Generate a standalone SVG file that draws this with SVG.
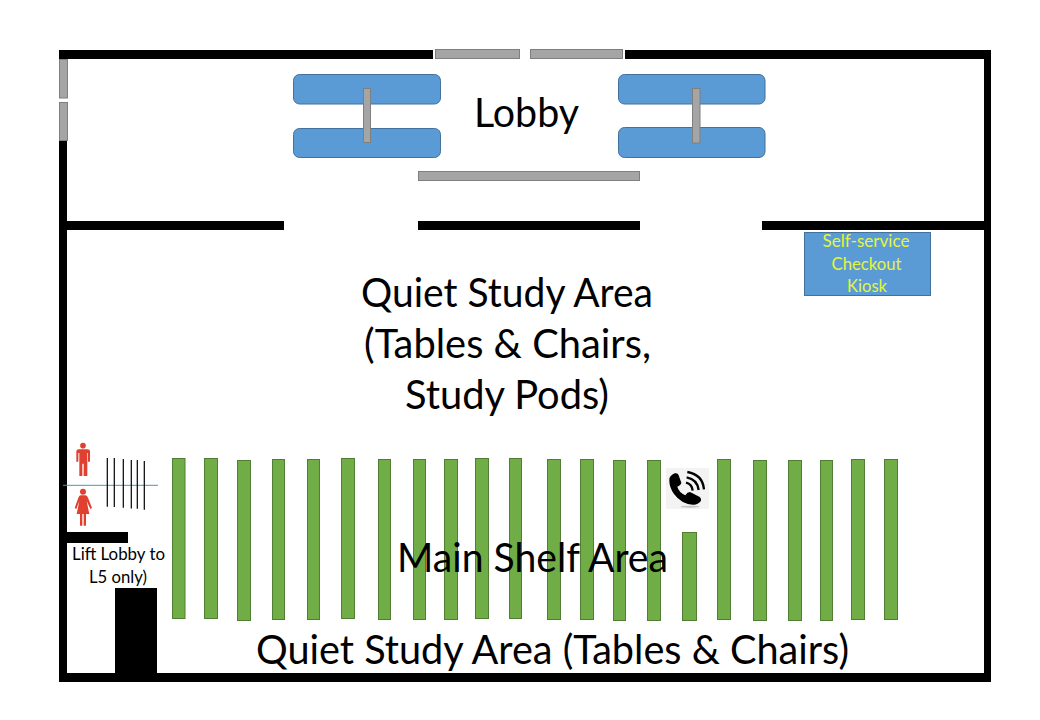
<svg xmlns="http://www.w3.org/2000/svg" width="1040" height="720" viewBox="0 0 1040 720">
<style>
.wall{fill:#000}
.door{fill:#a5a5a5;stroke:#7f7f7f;stroke-width:1}
.sofa{fill:#5b9bd5;stroke:#41719c;stroke-width:1}
.shelf{fill:#70ad47;stroke:#507e32;stroke-width:1}
.fig{fill:#e0402f}
.barrier{stroke:#000;stroke-width:1.2;fill:none}
text{font-family:"Lato","Carlito","Liberation Sans",sans-serif;fill:#000;text-anchor:middle}
.big{font-size:40px}
.small{font-size:16.5px}
.kiosk{font-size:16.5px;fill:#e4f53c}
</style>
<rect width="1040" height="720" fill="#fff"/>
<g id="walls">
<rect class="wall" x="59" y="50" width="374" height="9"/>
<rect class="wall" x="625" y="50" width="366" height="9"/>
<rect class="wall" x="59" y="140" width="8" height="542"/>
<rect class="wall" x="984" y="50" width="7" height="632"/>
<rect class="wall" x="59" y="673" width="932" height="9"/>
<rect class="wall" x="66" y="221" width="218" height="9"/>
<rect class="wall" x="418" y="221" width="222" height="9"/>
<rect class="wall" x="762" y="221" width="222" height="9"/>
<rect class="wall" x="66" y="532" width="62" height="11"/>
<rect class="wall" x="115" y="588" width="42" height="86"/>
</g>
<g id="doors">
<rect class="door" x="435.500" y="49.500" width="84" height="9"/>
<rect class="door" x="530.500" y="49.500" width="92" height="9"/>
<rect class="door" x="59.500" y="59.500" width="8" height="38.500"/>
<rect class="door" x="59.500" y="102.500" width="8" height="38"/>
</g>
<g id="lobby-seating">
<rect class="sofa" x="293.500" y="74.500" width="147" height="29.500" rx="6"/>
<rect class="sofa" x="293.500" y="128.500" width="147" height="29" rx="6"/>
<rect class="sofa" x="618.500" y="74.500" width="146.500" height="29.500" rx="6"/>
<rect class="sofa" x="618.500" y="127.500" width="146.500" height="30" rx="6"/>
<rect class="door" x="363.500" y="88.500" width="7" height="54"/>
<rect class="door" x="692.500" y="88.500" width="7.500" height="54.500"/>
<rect class="door" x="418.500" y="171.500" width="221" height="9"/>
</g>
<g id="kiosk">
<rect class="sofa" x="804.500" y="232.500" width="126" height="63"/>
<text class="kiosk" x="866" y="247" textLength="87" lengthAdjust="spacingAndGlyphs">Self-service</text>
<text class="kiosk" x="866.500" y="270" textLength="70" lengthAdjust="spacingAndGlyphs">Checkout</text>
<text class="kiosk" x="867" y="291.500" textLength="40" lengthAdjust="spacingAndGlyphs">Kiosk</text>
</g>
<g id="shelves">
<rect class="shelf" x="172.500" y="458.500" width="12.500" height="160"/>
<rect class="shelf" x="204.500" y="458.500" width="13" height="160"/>
<rect class="shelf" x="237.500" y="460.500" width="13" height="160"/>
<rect class="shelf" x="272.500" y="459.500" width="12" height="160"/>
<rect class="shelf" x="307.500" y="459.500" width="12" height="160"/>
<rect class="shelf" x="341.500" y="458.500" width="13" height="160"/>
<rect class="shelf" x="378.500" y="459.500" width="12" height="160"/>
<rect class="shelf" x="413.500" y="459.500" width="12" height="160"/>
<rect class="shelf" x="444.500" y="459.500" width="13" height="160"/>
<rect class="shelf" x="475.500" y="458.500" width="13" height="160"/>
<rect class="shelf" x="509.500" y="458.500" width="12" height="160"/>
<rect class="shelf" x="547.500" y="459.500" width="13" height="160"/>
<rect class="shelf" x="580.500" y="459.500" width="13" height="160"/>
<rect class="shelf" x="613.500" y="460.500" width="12" height="160"/>
<rect class="shelf" x="647.500" y="460.500" width="13" height="160"/>
<rect class="shelf" x="682.500" y="532.500" width="14" height="88"/>
<rect class="shelf" x="717.500" y="459.500" width="13" height="160"/>
<rect class="shelf" x="753.500" y="460.500" width="13" height="160"/>
<rect class="shelf" x="788.500" y="460.500" width="13" height="160"/>
<rect class="shelf" x="820.500" y="460.500" width="12" height="160"/>
<rect class="shelf" x="851.500" y="459.500" width="13" height="160"/>
<rect class="shelf" x="884.500" y="459.500" width="13" height="160"/>
</g>
<g id="phone" transform="translate(640 450) scale(.3333)">
<rect x="78" y="54" width="129" height="123" fill="#f3f3f3"/>
<ellipse cx="150" cy="170" rx="28" ry="3" fill="#c4c4c4"/>
<path d="M88 92Q86 78 104 70Q114 68 116 76L124 98Q124 104 112 110Q116 126 136 136Q142 126 150 126L178 140Q186 146 182 154Q172 166 158 164Q124 162 102 132Q88 112 88 92Z" fill="#000"/>
<path d="M142 66Q188 74 192 118M140 82Q172 88 176 120M138 98Q156 102 158 122" fill="none" stroke="#000" stroke-width="7"/>
</g>
<g id="restroom-male" transform="translate(60 435) scale(.3333)">
<circle class="fig" cx="69" cy="32" r="8.500"/>
<path class="fig" d="M56 43H82Q90 43 90 50V80H84V54H82V123H71V86H67V123H58V54H55V80H49V50Q49 43 56 43Z"/>
</g>
<g id="restroom-female" transform="translate(60 435) scale(.3333)">
<circle class="fig" cx="69" cy="170" r="9"/>
<path class="fig" d="M62 181H76Q81 181 84 188L96 219L91 222L80 198L88 237H78V272H71V237H67V272H60V237H50L58 198L49 222L44 219L55 188Q58 181 62 181Z"/>
</g>
<g id="connectors">
<line x1="63" y1="485.300" x2="158" y2="485.300" stroke="#4f94b0" stroke-width="1"/>
<line class="barrier" x1="107.300" y1="458" x2="107.300" y2="506.700"/>
<line class="barrier" x1="114.300" y1="458" x2="114.300" y2="507"/>
<line class="barrier" x1="123.300" y1="459" x2="123.300" y2="507.700"/>
<line class="barrier" x1="131.300" y1="460" x2="131.300" y2="508.500"/>
<line class="barrier" x1="137.300" y1="460" x2="137.300" y2="508.700"/>
<line class="barrier" x1="144.300" y1="461" x2="144.300" y2="509.700"/>
</g>
<g id="labels">
<text class="big" x="526.500" y="127" textLength="105" lengthAdjust="spacingAndGlyphs">Lobby</text>
<text class="big" x="507" y="307" textLength="292" lengthAdjust="spacingAndGlyphs">Quiet Study Area</text>
<text class="big" x="507.500" y="358" textLength="287" lengthAdjust="spacingAndGlyphs">(Tables &amp; Chairs,</text>
<text class="big" x="507" y="409" textLength="204" lengthAdjust="spacingAndGlyphs">Study Pods)</text>
<text class="big" x="532.500" y="572" textLength="271" lengthAdjust="spacingAndGlyphs">Main Shelf Area</text>
<text class="big" x="552.500" y="664" textLength="593" lengthAdjust="spacingAndGlyphs">Quiet Study Area (Tables &amp; Chairs)</text>
<text class="small" x="118.500" y="560" textLength="93" lengthAdjust="spacingAndGlyphs">Lift Lobby to</text>
<text class="small" x="118" y="583" textLength="58" lengthAdjust="spacingAndGlyphs">L5 only)</text>
</g>
</svg>
